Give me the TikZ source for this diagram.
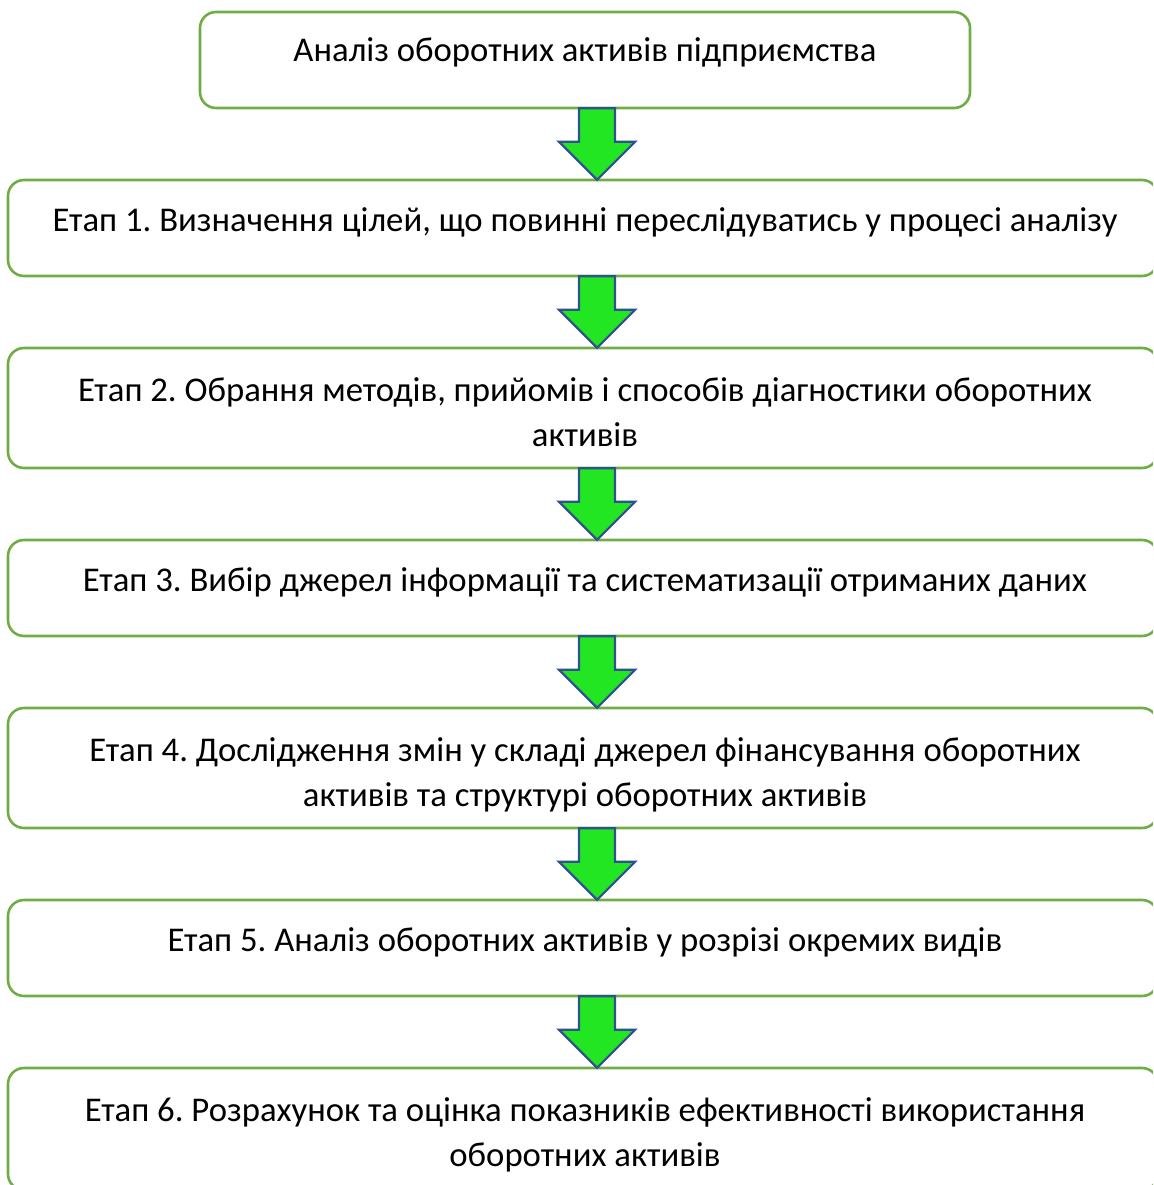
\documentclass[tikz,border=0pt]{standalone}
\usepackage{fontspec}
\setmainfont{Carlito}
\frenchspacing
\usetikzlibrary{calc}
\definecolor{boxgreen}{RGB}{112,173,71}
\definecolor{arrowfill}{RGB}{34,230,34}
\definecolor{arrowline}{RGB}{47,82,143}
\tikzset{
  stagebox/.style={draw=boxgreen, line width=2.6pt, rounded corners=16pt},
  stagetext/.style={anchor=base, inner sep=0pt, align=center, font=\fontsize{34.7}{45}\selectfont},
  blockarrow/.style={draw=arrowline, fill=arrowfill, line width=2.2pt, line join=miter}
}
\newcommand{\garrow}[2]{%
  \draw[blockarrow] ($(#1.south -| ax)+(-18,0)$) -- ($(#1.south -| ax)+(18,0)$)
    -- ($(#2.north -| ax)+(18,-38)$) -- ($(#2.north -| ax)+(38,-38)$)
    -- (#2.north -| ax) -- ($(#2.north -| ax)+(-38,-38)$)
    -- ($(#2.north -| ax)+(-18,-38)$) -- cycle;}
\begin{document}
\begin{tikzpicture}[x=1pt,y=-1pt]
\useasboundingbox (0,0) rectangle (1153,1185);
\clip (0,0) rectangle (1153,1185);
\fill[white] (0,0) rectangle (1153,1185);
\coordinate (ax) at (597,0);
% boxes
\draw[stagebox] (200,12) rectangle (970,108);
\node[inner sep=0pt, minimum width=770pt, minimum height=96pt] (b0) at (585,60) {};
\foreach \n/\t/\b in {1/180/276, 2/348/468, 3/540/636, 4/708/828, 5/900/996, 6/1068/1190}{
  \draw[stagebox] (8,\t) rectangle (1158,\b);
}
\node[inner sep=0pt, minimum width=1150pt, minimum height=96pt] (b1) at (583,228) {};
\node[inner sep=0pt, minimum width=1150pt, minimum height=120pt] (b2) at (583,408) {};
\node[inner sep=0pt, minimum width=1150pt, minimum height=96pt] (b3) at (583,588) {};
\node[inner sep=0pt, minimum width=1150pt, minimum height=120pt] (b4) at (583,768) {};
\node[inner sep=0pt, minimum width=1150pt, minimum height=96pt] (b5) at (583,948) {};
\node[inner sep=0pt, minimum width=1150pt, minimum height=122pt] (b6) at (583,1129) {};
% texts
\node[stagetext] (t0) at (585,62) {Аналіз оборотних активів підприємства};
\node[stagetext] (t1) at (585,231) {Етап 1. Визначення цілей, що повинні переслідуватись у процесі аналізу};
\node[stagetext] (t2) at (585,446) {Етап 2. Обрання методів, прийомів і способів діагностики оборотних\\активів};
\node[stagetext] (t3) at (585,591) {Етап 3. Вибір джерел інформації та систематизації отриманих даних};
\node[stagetext] (t4) at (585,806) {Етап 4. Дослідження змін у складі джерел фінансування оборотних\\активів та структурі оборотних активів};
\node[stagetext] (t5) at (585,951) {Етап 5. Аналіз оборотних активів у розрізі окремих видів};
\node[stagetext] (t6) at (585,1166) {Етап 6. Розрахунок та оцінка показників ефективності використання\\оборотних активів};
% arrows
\garrow{b0}{b1}
\garrow{b1}{b2}
\garrow{b2}{b3}
\garrow{b3}{b4}
\garrow{b4}{b5}
\garrow{b5}{b6}
\end{tikzpicture}
\end{document}
